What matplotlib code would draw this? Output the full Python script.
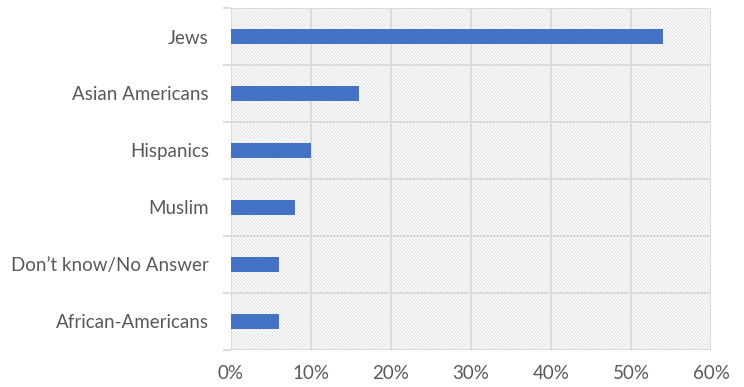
import matplotlib.pyplot as plt
from matplotlib.patches import Rectangle
import numpy as np

categories = ["Jews", "Asian Americans", "Hispanics", "Muslim",
              "Don\u2019t know/No Answer", "African-Americans"]
values = [54, 16, 10, 8, 6, 6]
xticks = [0, 10, 20, 30, 40, 50, 60]

plt.rcParams['font.family'] = ['Lato', 'DejaVu Sans']
plt.rcParams['hatch.linewidth'] = 0.6
plt.rcParams['hatch.color'] = '#dadada'

fig = plt.figure(figsize=(7.44, 3.87), dpi=100)
ax = fig.add_axes([231/744, 1 - 350/387, 480/744, 342/387])

# hatched background
bg = Rectangle((0, 0), 1, 1, transform=ax.transAxes, facecolor='white',
               edgecolor='#dadada', hatch='\\' * 10, linewidth=0, zorder=0)
ax.add_patch(bg)

y = np.arange(len(categories))[::-1]
ax.barh(y, values, height=0.28, color='#4472c4', zorder=3)

ax.set_xlim(0, 60)
ax.set_ylim(-0.5, len(categories) - 0.5)
ax.set_xticks(xticks)
ax.set_xticklabels([f"{v}%" for v in xticks], fontsize=13.5, color='#595959')
ax.set_yticks(y)
ax.set_yticklabels(categories, fontsize=13.5, color='#595959')
ax.set_yticks(np.arange(-0.5, len(categories)), minor=True)

ax.grid(axis='x', color='#d9d9d9', linewidth=1.3, zorder=1)
ax.grid(axis='y', which='minor', color='#d9d9d9', linewidth=1.3, zorder=1)
ax.set_axisbelow(True)

ax.tick_params(axis='y', which='major', length=0, pad=16)
ax.tick_params(axis='y', which='minor', length=6, color='#d9d9d9', width=1.3)
ax.tick_params(axis='x', length=0, pad=11)
for s in ax.spines.values():
    s.set_visible(False)

fig.savefig('out.png', dpi=100)
